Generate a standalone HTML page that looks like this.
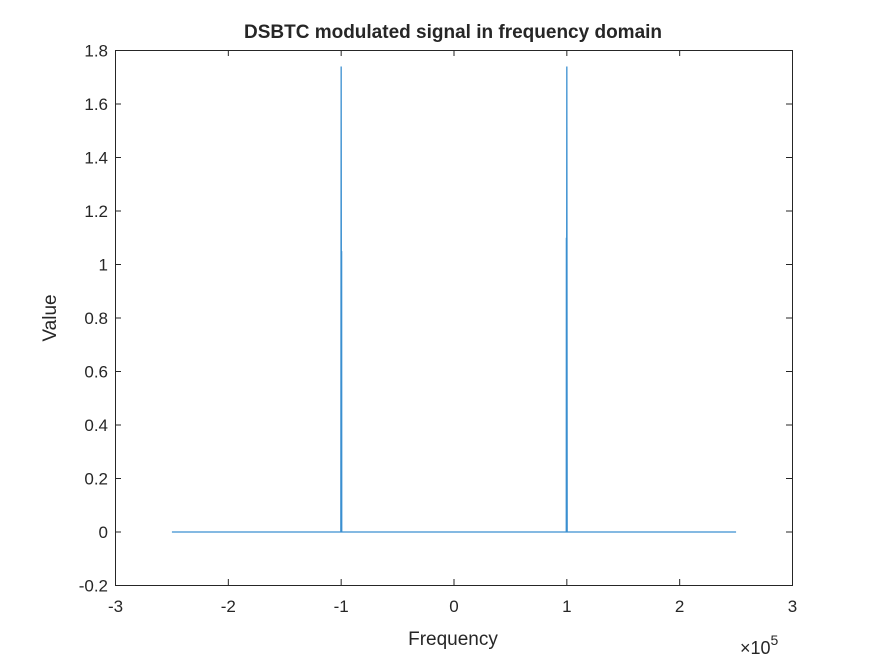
<!DOCTYPE html>
<html><head><meta charset="utf-8"><style>
body{margin:0;background:#fff;}
svg text{font-family:"Liberation Sans",Arial,sans-serif;fill:#262626;}
</style></head><body>
<svg id="chart" width="875" height="656" xmlns="http://www.w3.org/2000/svg">
<rect x="0" y="0" width="875" height="656" fill="#fff"/>
<rect x="115.5" y="50.5" width="677" height="535" fill="#fff" stroke="#262626" stroke-width="1"/>
<text x="453" y="38" text-anchor="middle" font-size="19" font-weight="bold" fill="#000">DSBTC modulated signal in frequency domain</text>
<text x="453" y="645" text-anchor="middle" font-size="19">Frequency</text>
<text transform="translate(56,318) rotate(-90)" text-anchor="middle" font-size="19">Value</text>
<text x="740" y="654" font-size="18">×10<tspan dy="-9" font-size="14">5</tspan></text>
<g id="ticks"></g>
<g id="series"></g>
</svg>
<script>
const xTicks=[-3,-2,-1,0,1,2,3];
const yTicks=[-0.2,0,0.2,0.4,0.6,0.8,1,1.2,1.4,1.6,1.8];
const yTickLabels=["-0.2","0","0.2","0.4","0.6","0.8","1","1.2","1.4","1.6","1.8"];
const freqs=[-250000,-100300,-100000,-99700,-99600,-99500,99500,99600,99700,100000,100300,250000];
const values=[0,0,1.74,0,1.05,0,0,1.1,0,1.74,0,0];
const L=115,R=792,T=50,B=585;
const xs=v=>L+(v/100000+3)/6*(R-L);
const ys=v=>B-(v+0.2)/2*(B-T);
const NS="http://www.w3.org/2000/svg";
const tg=document.getElementById('ticks');
xTicks.forEach(t=>{
 const x=xs(t*100000)+0.5;
 const l=document.createElementNS(NS,'line');
 l.setAttribute('x1',x);l.setAttribute('x2',x);l.setAttribute('y1',B);l.setAttribute('y2',B-6);l.setAttribute('stroke','#262626');
 
 
 tg.appendChild(l);
 const l2=l.cloneNode();l2.setAttribute('y1',T);l2.setAttribute('y2',T+6);tg.appendChild(l2);
 const tx=document.createElementNS(NS,'text');
 tx.setAttribute('x',x);tx.setAttribute('y',B+27);tx.setAttribute('text-anchor','middle');tx.setAttribute('font-size','17');
 tx.textContent=String(t);
 
 
 tg.appendChild(tx);
});
yTicks.forEach((t,i)=>{
 const y=ys(t)+0.5;
 const l=document.createElementNS(NS,'line');
 l.setAttribute('x1',L);l.setAttribute('x2',L+6);l.setAttribute('y1',y);l.setAttribute('y2',y);l.setAttribute('stroke','#262626');
 
 
 tg.appendChild(l);
 const l2=l.cloneNode();l2.setAttribute('x1',R);l2.setAttribute('x2',R-6);tg.appendChild(l2);
 const tx=document.createElementNS(NS,'text');
 tx.setAttribute('x',L-7);tx.setAttribute('y',y+6);tx.setAttribute('text-anchor','end');tx.setAttribute('font-size','17');
 tx.textContent=yTickLabels[i];
 
 
 tg.appendChild(tx);
});
const p=document.createElementNS(NS,'polyline');
p.setAttribute('points',freqs.map((f,i)=>(xs(f)+0.5).toFixed(2)+','+(ys(values[i])+0.5).toFixed(2)).join(' '));
p.setAttribute('fill','none');p.setAttribute('stroke','#3a8fd0');p.setAttribute('stroke-width','1.3');


document.getElementById('series').appendChild(p);
</script>
</body></html>
